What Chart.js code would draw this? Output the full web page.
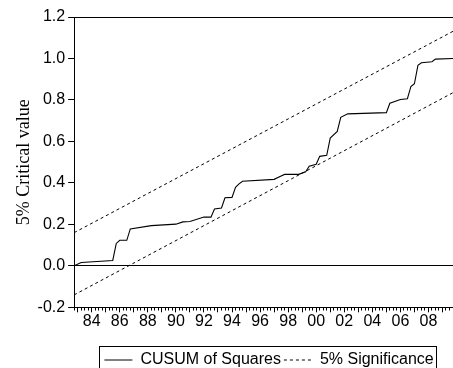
<!DOCTYPE html>
<html>
<head>
<meta charset="utf-8">
<script src="https://cdn.jsdelivr.net/npm/chart.js@4.4.0/dist/chart.umd.min.js"></script>
<style>
  html, body { margin: 0; padding: 0; background: #fff; }
</style>
</head>
<body>
<canvas id="c" width="453" height="368"></canvas>
<script>
// quarterly dates (decimal years) where the CUSUM path changes
const dates = [1982.75, 1983.25, 1985.5, 1985.75, 1986.0, 1986.5, 1986.75, 1988.25, 1990.0, 1990.5,
  1991.0, 1992.0, 1992.5, 1992.75, 1993.25, 1993.5, 1994.0, 1994.25, 1994.5, 1994.75,
  1997.0, 1997.5, 1997.75, 1998.75, 1999.25, 1999.5, 2000.0, 2000.25, 2000.75, 2001.0,
  2001.5, 2001.75, 2002.25, 2005.0, 2005.25, 2006.0, 2006.5, 2006.75, 2007.0, 2007.25,
  2007.5, 2008.25, 2008.5, 2009.75];
const cusum = [0.0, 0.016, 0.026, 0.108, 0.123, 0.123, 0.178, 0.194, 0.201, 0.212,
  0.214, 0.235, 0.235, 0.274, 0.279, 0.328, 0.33, 0.379, 0.395, 0.408,
  0.417, 0.433, 0.441, 0.441, 0.454, 0.48, 0.49, 0.528, 0.533, 0.616,
  0.648, 0.716, 0.733, 0.739, 0.784, 0.802, 0.806, 0.865, 0.878, 0.967,
  0.979, 0.984, 0.997, 1.0];

// 5% significance bands (straight lines)
const bandDates = [1982.75, 2009.75];
const upperBand = [0.16, 1.131];
const lowerBand = [-0.14, 0.835];

const xRange = [1982.75, 2009.75];
const xLabelYears = [1984, 1986, 1988, 1990, 1992, 1994, 1996, 1998, 2000, 2002, 2004, 2006, 2008];
const yRange = [-0.2, 1.2];
const yStep = 0.2;

const sans = "'Liberation Sans', Arial, sans-serif";
Chart.defaults.font.family = sans;
Chart.defaults.color = '#000';

const toPoints = (xs, ys) => xs.map((x, i) => ({ x: x, y: ys[i] }));
const isYear = v => Math.abs(v - Math.round(v)) < 1e-6;

// centre the legend under the plot and draw its frame
const legendFrame = {
  id: 'legendFrame',
  afterLayout(chart) {
    const lg = chart.legend, area = chart.chartArea;
    lg.left = area.left;
    lg.right = area.right + 11;
    lg.width = lg.right - lg.left;
  },
  afterDraw(chart) {
    const boxes = chart.legend.legendHitBoxes;
    if (!boxes || !boxes.length) return;
    const first = boxes[0], last = boxes[boxes.length - 1];
    const ctx = chart.ctx;
    const l = Math.round(first.left - 5) + 0.5;
    const r = Math.round(last.left + last.width + 2) + 0.5;
    const t = Math.round(first.top - 6) + 0.5;
    ctx.save();
    ctx.strokeStyle = '#000';
    ctx.lineWidth = 1;
    ctx.strokeRect(l, t, r - l, 40);
    ctx.restore();
  }
};

new Chart(document.getElementById('c'), {
  type: 'line',
  data: {
    datasets: [
      {
        label: 'CUSUM of Squares',
        data: toPoints(dates, cusum),
        borderColor: '#000',
        borderWidth: 1.1,
        pointRadius: 0,
        tension: 0
      },
      {
        label: '5% Significance',
        data: toPoints(bandDates, upperBand),
        borderColor: '#000',
        borderWidth: 1,
        borderDash: [3, 3],
        pointRadius: 0
      },
      {
        label: '5% Significance',
        data: toPoints(bandDates, lowerBand),
        borderColor: '#000',
        borderWidth: 1,
        borderDash: [3, 3],
        pointRadius: 0
      }
    ]
  },
  options: {
    responsive: false,
    animation: false,
    layout: { padding: { left: 8, right: 0, top: 17, bottom: -10 } },
    plugins: {
      tooltip: { enabled: false },
      legend: {
        position: 'bottom',
        labels: {
          font: { family: sans, size: 16 },
          color: '#000',
          usePointStyle: true,
          pointStyle: 'line',
          pointStyleWidth: 28,
          padding: 3,
          filter: item => item.datasetIndex < 2,
          generateLabels: chart => {
            const items = Chart.defaults.plugins.legend.labels.generateLabels(chart);
            items.forEach(it => {
              const ds = chart.data.datasets[it.datasetIndex];
              it.lineDash = ds.borderDash || [];
              it.lineWidth = 1;
              it.strokeStyle = '#000';
            });
            return items;
          }
        }
      }
    },
    scales: {
      x: {
        type: 'linear',
        min: xRange[0],
        max: xRange[1],
        ticks: {
          stepSize: 0.25,
          maxTicksLimit: 200,
          autoSkip: false,
          maxRotation: 0,
          minRotation: 0,
          padding: 0,
          font: { size: 16 },
          color: '#000',
          callback: v => {
            const yr = Math.round(v);
            if (!isYear(v) || !xLabelYears.includes(yr)) return '';
            return String(yr % 100).padStart(2, '0');
          }
        },
        grid: {
          drawOnChartArea: false,
          tickLength: 5,
          tickColor: '#000',
          tickBorderDash: ctx => (ctx.tick && isYear(ctx.tick.value)) ? [] : [2.5, 10]
        },
        border: { color: '#000' },
        title: { display: true, text: '', font: { size: 10 }, padding: { top: 5.5, bottom: 0 } }
      },
      xTop: {
        type: 'linear',
        position: 'top',
        min: xRange[0],
        max: xRange[1],
        ticks: { display: false },
        grid: { display: false, drawTicks: false },
        border: { display: true, color: '#000' }
      },
      y: {
        min: yRange[0],
        max: yRange[1],
        ticks: {
          stepSize: yStep,
          padding: 3,
          font: { size: 16 },
          color: '#000',
          callback: v => (Math.abs(v) < 1e-9 ? 0 : Number(v)).toFixed(1)
        },
        grid: {
          color: ctx => (ctx.tick && Math.abs(ctx.tick.value) < 1e-9) ? '#000' : 'rgba(0,0,0,0)',
          tickColor: '#000',
          tickLength: 6
        },
        border: { color: '#000' },
        title: {
          display: true,
          text: '5% Critical value',
          font: { family: "'Liberation Serif', 'Times New Roman', serif", size: 18 },
          color: '#000',
          padding: { top: 5, bottom: 0 }
        }
      }
    }
  },
  plugins: [legendFrame]
});
</script>
</body>
</html>
